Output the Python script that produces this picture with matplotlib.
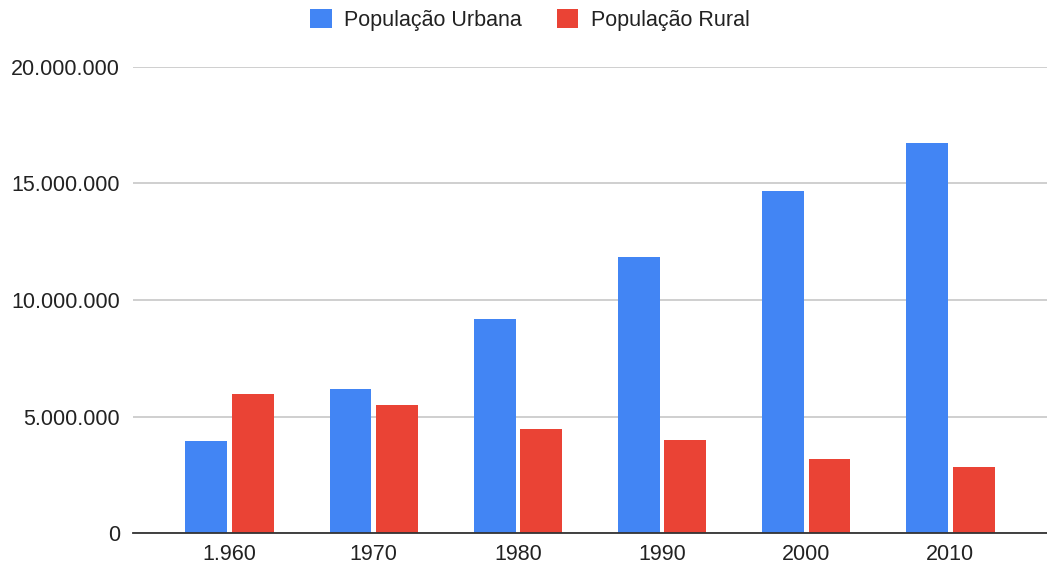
import matplotlib
matplotlib.use("Agg")
import matplotlib.pyplot as plt
import numpy as np
from matplotlib.ticker import FuncFormatter
from matplotlib.patches import Patch

categories = ["1.960", "1970", "1980", "1990", "2000", "2010"]
urbana = [3970000, 6180000, 9190000, 11840000, 14650000, 16710000]
rural = [5960000, 5480000, 4460000, 3980000, 3180000, 2850000]
series_names = ["População Urbana", "População Rural"]
yticks = [0, 5000000, 10000000, 15000000, 20000000]

BLUE = "#4285F4"
RED = "#EA4335"

plt.rcParams['font.family'] = ['Liberation Sans', 'DejaVu Sans']

fig = plt.figure(figsize=(10.47, 5.67), dpi=100)
ax = fig.add_axes([133/1047, (567-533.3)/567, 1 - 133/1047, (533.3-66.5)/567])

x = np.arange(len(categories))
w = 0.29
off = 0.161
ax.bar(x - off, urbana, width=w, color=BLUE, zorder=3)
ax.bar(x + off, rural, width=w, color=RED, zorder=3)

ax.set_xlim(-0.67, len(categories) - 1 + 0.67)
ax.set_ylim(0, 20000000)
ax.set_yticks(yticks)
ax.yaxis.set_major_formatter(FuncFormatter(lambda v, p: f"{int(v):,}".replace(",", ".")))
ax.set_xticks(x)
ax.set_xticklabels(categories)

ax.grid(axis='y', color='#cccccc', linewidth=1.3, zorder=0)
ax.set_axisbelow(True)
for s in ['top', 'right', 'left']:
    ax.spines[s].set_visible(False)
ax.spines['bottom'].set_color('#333333')
ax.spines['bottom'].set_linewidth(1.3)
ax.spines['bottom'].set_zorder(4)
ax.tick_params(axis='both', length=0, labelsize=15.5, colors='#222222')
ax.tick_params(axis='y', pad=9.3)
ax.tick_params(axis='x', pad=7.5)

handles = [Patch(facecolor=BLUE, label=series_names[0]),
           Patch(facecolor=RED, label=series_names[1])]
fig.legend(handles=handles, loc='center', bbox_to_anchor=(530/1047, 1 - 20/567),
           ncol=2, frameon=False, fontsize=15.5, handlelength=1.0, handleheight=1.0,
           handletextpad=0.6, columnspacing=1.6, labelcolor='#222222')

fig.savefig("out.png", dpi=100)
